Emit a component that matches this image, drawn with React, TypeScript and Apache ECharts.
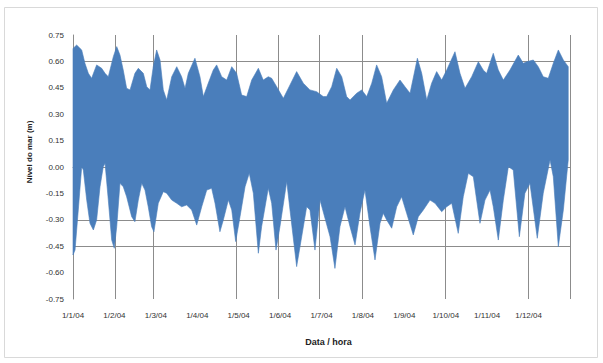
import React, { useEffect, useRef } from "react";
import * as echarts from "echarts";

// Month-start tick labels (one every 30.5 days, day 0 = 1 Jan 2004)
const monthLabels = ["1/1/04", "1/2/04", "1/3/04", "1/4/04", "1/5/04", "1/6/04", "1/7/04", "1/8/04", "1/9/04", "1/10/04", "1/11/04", "1/12/04"];

// Upper envelope of the tide record (day of year, level in m)
const topDays = [0, 2.7, 6.4, 8.8, 11.3, 13.7, 17.4, 21.1, 23.6, 26.0, 29.7, 32.2, 34.6, 37.0, 39.5, 42.0, 45.6, 48.1, 51.8, 54.3, 56.7, 59.1, 61.6, 64.1, 66.5, 69.0, 72.7, 76.4, 80.0, 82.5, 84.9, 89.8, 93.5, 96.0, 99.6, 103.3, 105.8, 109.5, 113.2, 116.9, 120.5, 124.2, 127.9, 131.6, 136.5, 140.1, 143.8, 146.3, 150.0, 154.9, 159.8, 164.7, 169.6, 174.5, 179.4, 184.3, 186.8, 190.5, 194.2, 197.9, 201.5, 204.0, 208.9, 212.6, 216.3, 220.0, 223.6, 227.3, 231.0, 235.9, 240.8, 244.5, 248.2, 251.8, 253.6, 256.8, 260.5, 264.1, 267.8, 271.5, 275.2, 281.3, 285.0, 288.7, 293.6, 298.5, 302.1, 304.6, 309.5, 313.2, 316.9, 321.8, 327.9, 331.6, 334.1, 339.0, 342.6, 346.3, 350.0, 353.7, 357.4, 361.1, 364.7];
const topVals = [0.674, 0.693, 0.665, 0.589, 0.532, 0.504, 0.58, 0.561, 0.532, 0.513, 0.627, 0.684, 0.636, 0.551, 0.447, 0.438, 0.532, 0.561, 0.532, 0.456, 0.438, 0.57, 0.665, 0.608, 0.438, 0.381, 0.513, 0.57, 0.513, 0.447, 0.532, 0.618, 0.513, 0.4, 0.476, 0.551, 0.58, 0.513, 0.494, 0.57, 0.532, 0.409, 0.4, 0.494, 0.561, 0.494, 0.513, 0.504, 0.456, 0.39, 0.466, 0.542, 0.476, 0.438, 0.428, 0.4, 0.4, 0.456, 0.561, 0.513, 0.4, 0.381, 0.419, 0.438, 0.4, 0.476, 0.58, 0.513, 0.362, 0.438, 0.494, 0.456, 0.419, 0.551, 0.618, 0.532, 0.381, 0.476, 0.542, 0.494, 0.551, 0.655, 0.532, 0.447, 0.513, 0.598, 0.551, 0.532, 0.646, 0.551, 0.494, 0.551, 0.636, 0.589, 0.598, 0.608, 0.57, 0.513, 0.504, 0.589, 0.665, 0.608, 0.57];

// Lower envelope of the tide record (day of year, level in m)
const bottomDays = [0, 1.5, 3.9, 6.4, 7.6, 10.1, 12.5, 15.0, 17.4, 19.9, 22.3, 23.6, 26.0, 28.5, 30.4, 32.2, 34.6, 37.0, 39.5, 43.2, 45.6, 48.1, 50.6, 53.0, 55.4, 57.9, 59.6, 62.8, 66.5, 69.0, 72.7, 76.4, 80.0, 83.7, 87.4, 91.1, 94.8, 98.5, 102.1, 104.6, 108.2, 110.7, 114.4, 116.9, 119.8, 123.0, 126.7, 129.8, 132.8, 136.5, 138.9, 143.8, 146.3, 149.5, 152.4, 157.4, 159.8, 164.7, 168.4, 172.1, 174.5, 178.2, 181.9, 189.3, 192.9, 196.6, 200.3, 204.0, 207.7, 211.3, 215.0, 218.7, 222.4, 226.1, 228.5, 231.0, 234.7, 238.4, 242.0, 245.7, 250.6, 254.3, 258.0, 262.9, 266.6, 271.5, 275.2, 278.9, 283.7, 287.4, 291.1, 294.8, 299.7, 303.4, 307.1, 309.5, 313.2, 316.9, 320.6, 324.2, 328.7, 332.8, 336.5, 341.9, 346.3, 351.3, 353.7, 357.4, 361.1, 364.7];
const bottomVals = [-0.5, -0.472, -0.244, 0.002, -0.017, -0.188, -0.32, -0.358, -0.301, -0.112, 0.002, 0.021, -0.188, -0.415, -0.462, -0.339, -0.093, -0.112, -0.169, -0.282, -0.311, -0.188, -0.093, -0.131, -0.226, -0.339, -0.368, -0.206, -0.14, -0.149, -0.188, -0.206, -0.226, -0.216, -0.244, -0.33, -0.226, -0.131, -0.121, -0.206, -0.368, -0.301, -0.188, -0.244, -0.424, -0.282, -0.112, -0.036, -0.149, -0.49, -0.339, -0.121, -0.206, -0.472, -0.339, -0.083, -0.244, -0.566, -0.396, -0.226, -0.244, -0.472, -0.188, -0.396, -0.576, -0.339, -0.226, -0.339, -0.443, -0.263, -0.131, -0.339, -0.528, -0.32, -0.263, -0.301, -0.348, -0.226, -0.169, -0.263, -0.386, -0.282, -0.244, -0.188, -0.206, -0.254, -0.226, -0.206, -0.377, -0.169, -0.036, -0.055, -0.32, -0.188, -0.131, -0.226, -0.415, -0.188, 0.002, -0.017, -0.396, -0.149, -0.093, -0.405, -0.149, 0.04, -0.055, -0.453, -0.244, 0.04];

// Grid lines drawn in the reference
const vGridDays = [31, 59, 120, 151, 181, 213, 274, 335, 366];
const hGridValues = [0.6, -0.3, -0.45];

export default function App() {
  const ref = useRef<HTMLDivElement>(null);
  useEffect(() => {
    if (!ref.current) return;
    const chart = echarts.init(ref.current, null, { renderer: "svg" });
    const gridColor = "#8c8c8c";
    const font = "Liberation Sans";
    chart.setOption({
      animation: false,
      backgroundColor: "#ffffff",
      graphic: [
        {
          type: "rect",
          shape: { x: 4.5, y: 7.5, width: 593, height: 350 },
          style: { fill: "none", stroke: "#d9d9d9", lineWidth: 1 },
          z: -1,
        },
      ],
      grid: { left: 73, right: 33, top: 35, bottom: 64 },
      xAxis: {
        type: "value",
        min: 0,
        max: 366,
        interval: 30.5,
        name: "Data / hora",
        nameLocation: "middle",
        nameGap: 38,
        nameTextStyle: { fontFamily: font, fontSize: 9, fontWeight: "bold", color: "#222", padding: [0, 0, 0, 14] },
        axisLine: { show: true, lineStyle: { color: gridColor, width: 1 } },
        axisTick: { show: false },
        splitLine: { show: false },
        axisLabel: {
          fontFamily: font,
          fontSize: 8,
          color: "#333",
          margin: 12,
          showMaxLabel: false,
          formatter: (v: number) => monthLabels[Math.round(v / 30.5)] ?? "",
        },
      },
      yAxis: {
        type: "value",
        min: -0.75,
        max: 0.75,
        interval: 0.15,
        name: "Nível do mar (m)",
        nameLocation: "middle",
        nameGap: 40,
        nameTextStyle: { fontFamily: font, fontSize: 8, fontWeight: "bold", color: "#222", padding: [0, 0, 0, 30] },
        axisLine: { show: true, lineStyle: { color: gridColor, width: 1 } },
        axisTick: { show: false },
        splitLine: { show: false },
        axisLabel: {
          fontFamily: font,
          fontSize: 8,
          color: "#333",
          margin: 9,
          formatter: (v: number) => v.toFixed(2),
        },
      },
      series: [
        {
          type: "line",
          data: [],
          z: 1,
          silent: true,
          markLine: {
            silent: true,
            z: 1,
            symbol: "none",
            label: { show: false },
            lineStyle: { color: gridColor, type: "solid", width: 1 },
            data: [
              ...vGridDays.map((d) => ({ xAxis: d })),
              ...hGridValues.map((v) => ({ yAxis: v })),
            ],
          },
        },
        {
          type: "custom",
          z: 20,
          data: topDays.map((d, i) => [d, topVals[i]]),
          renderItem: (params: any, api: any) => {
            if (params.dataIndex !== 0) return null;
            const pts: number[][] = [];
            for (let i = 0; i < topDays.length; i++) pts.push(api.coord([topDays[i], topVals[i]]));
            for (let i = bottomDays.length - 1; i >= 0; i--) pts.push(api.coord([bottomDays[i], bottomVals[i]]));
            return {
              type: "polygon",
              z2: 100,
              shape: { points: pts },
              style: { fill: "#4a7ebb", stroke: "#4a7ebb", lineWidth: 0.6 },
            };
          },
        },
      ],
    });
    return () => chart.dispose();
  }, []);
  return (
    <div
      ref={ref}
      style={{ position: "fixed", left: 0, top: 0, width: 603, height: 363, background: "#fff" }}
    />
  );
}
